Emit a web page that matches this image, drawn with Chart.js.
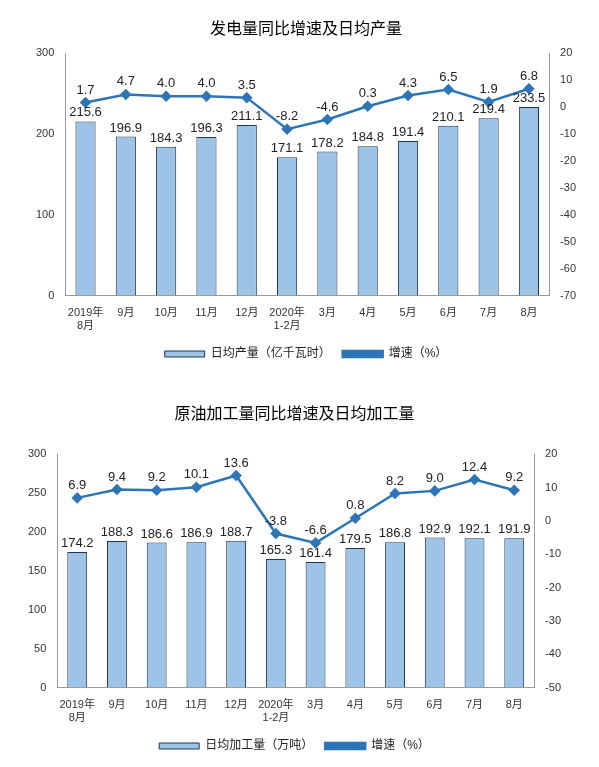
<!DOCTYPE html>
<html><head><meta charset="utf-8">
<script src="https://cdn.jsdelivr.net/npm/chart.js@4/dist/chart.umd.min.js"></script>
<style>body{margin:0;background:#fff;width:599px;height:767px;position:relative;overflow:hidden}
.c{position:absolute;left:0;width:599px}</style></head><body>
<div class="c" style="top:0;height:382px"><canvas id="c1"></canvas></div>
<div class="c" style="top:385px;height:382px"><canvas id="c2"></canvas></div>
<script>
const categories=[['2019年','8月'],'9月','10月','11月','12月',['2020年','1-2月'],'3月','4月','5月','6月','7月','8月'];
const powerOutput=[215.6,196.9,184.3,196.3,211.1,171.1,178.2,184.8,191.4,210.1,219.4,233.5];
const powerGrowth=[1.7,4.7,4.0,4.0,3.5,-8.2,-4.6,0.3,4.3,6.5,1.9,6.8];
const oilOutput=[174.2,188.3,186.6,186.9,188.7,165.3,161.4,179.5,186.8,192.9,192.1,191.9];
const oilGrowth=[6.9,9.4,9.2,10.1,13.6,-3.8,-6.6,0.8,8.2,9.0,12.4,9.2];
const FONT='"Liberation Sans", "Noto Sans CJK SC", sans-serif';
const labelPlugin={id:'lbl',afterDatasetsDraw(ch){const c=ch.ctx;c.save();c.font='13px '+FONT;c.fillStyle='#222';c.textAlign='center';c.textBaseline='bottom';
ch.data.datasets.forEach((ds,i)=>{ch.getDatasetMeta(i).data.forEach((el,j)=>{const v=ds.data[j];c.fillText(v.toFixed(1),el.x,el.y-(ds.type==='line'?6:2));});});c.restore();}};
function make(id,title,barName,bars,growth,lmax,lstep,rmin,rmax,padL,padR,titleBottom,bottom){
new Chart(document.getElementById(id),{data:{labels:categories,datasets:[
{type:'line',label:'增速（%）',data:growth,yAxisID:'y2',borderColor:'#2E75B6',backgroundColor:'#2E75B6',borderWidth:2.5,pointStyle:'rectRot',pointRadius:4,order:0},
{type:'bar',label:barName,data:bars,yAxisID:'y',backgroundColor:'#9DC3E6',borderColor:'#1F3550',borderWidth:1,barPercentage:0.5,categoryPercentage:1,order:1}]},
options:{responsive:true,maintainAspectRatio:false,animation:false,
layout:{padding:{left:padL,right:padR,top:0,bottom:bottom}},
plugins:{title:{display:true,text:title,font:{size:16,family:FONT,weight:'normal'},color:'#000',padding:{top:20,bottom:titleBottom}},
legend:{position:'bottom',reverse:true,labels:{font:{size:12,family:FONT},color:'#222',boxWidth:40,boxHeight:6,padding:12}},tooltip:{enabled:false}},
scales:{x:{grid:{display:false,drawTicks:true,tickColor:'#999'},border:{color:'#999'},ticks:{font:{size:11,family:FONT},color:'#333',maxRotation:0,autoSkip:false}},
y:{min:0,max:lmax,ticks:{stepSize:lstep,font:{size:11,family:FONT},color:'#333'},grid:{display:false},border:{color:'#999'}},
y2:{position:'right',min:rmin,max:rmax,ticks:{stepSize:10,font:{size:11,family:FONT},color:'#333'},grid:{display:false},border:{color:'#999'}}}},
plugins:[labelPlugin]});}
make('c1','发电量同比增速及日均产量','日均产量（亿千瓦时）',powerOutput,powerGrowth,300,100,-70,20,33,20,14,12);
make('c2','原油加工量同比增速及日均加工量','日均加工量（万吨）',oilOutput,oilGrowth,300,50,-50,20,25,35,30,5);
</script></body></html>
